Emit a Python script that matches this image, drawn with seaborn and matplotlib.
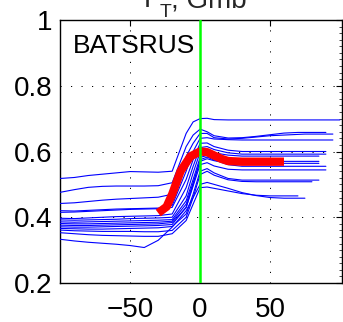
import numpy as np
import pandas as pd
import matplotlib
matplotlib.use("Agg")
import matplotlib.pyplot as plt
import seaborn as sns
from matplotlib.ticker import MultipleLocator, FixedLocator

N = np.nan
t = [-100, -90, -80, -70, -60, -50, -40, -30, -20, -10, -5, 0, 5, 10, 20, 30, 40, 50, 60, 70, 75, 80, 85, 90, 95, 100]

run01 = [0.518, 0.521, 0.527, 0.531, 0.535, 0.539, 0.538, 0.537, 0.540, 0.655, 0.690, 0.700, 0.701, 0.697, 0.696, 0.696, 0.696, 0.696, 0.696, 0.696, 0.696, 0.696, 0.696, 0.696, 0.696, 0.696]
run02 = [0.476, 0.484, 0.491, 0.494, 0.495, 0.495, 0.495, 0.496, 0.505, 0.615, 0.650, 0.668, 0.660, 0.648, 0.641, 0.642, 0.646, 0.651, 0.656, 0.658, 0.658, 0.658, 0.658, 0.658, N, N]
run03 = [0.442, 0.444, 0.448, 0.452, 0.455, 0.457, 0.459, 0.461, 0.470, 0.585, 0.625, 0.655, 0.655, 0.642, 0.638, 0.640, 0.644, 0.648, 0.650, 0.652, 0.653, 0.653, 0.653, 0.653, 0.653, N]
run04 = [0.420, 0.419, 0.421, 0.423, 0.425, 0.426, 0.427, 0.428, 0.436, 0.540, 0.600, 0.640, 0.642, 0.638, 0.636, 0.635, 0.635, 0.635, 0.635, 0.635, 0.635, 0.635, 0.635, 0.635, 0.635, N]
run05 = [0.415, 0.416, 0.418, 0.420, 0.422, 0.424, 0.425, 0.426, 0.430, 0.515, 0.575, 0.625, 0.626, 0.615, 0.604, 0.600, 0.600, 0.600, 0.600, 0.600, 0.600, 0.600, 0.600, 0.600, N, N]
run06 = [0.397, 0.396, 0.398, 0.400, 0.402, 0.403, 0.404, 0.405, 0.410, 0.490, 0.555, 0.612, 0.615, 0.606, 0.596, 0.592, 0.592, 0.592, 0.592, 0.592, 0.592, 0.592, 0.592, 0.592, N, N]
run07 = [0.392, 0.391, 0.392, 0.393, 0.394, 0.396, 0.397, 0.398, 0.400, 0.465, 0.535, 0.598, 0.602, 0.596, 0.589, 0.586, 0.586, 0.586, 0.586, 0.586, 0.586, 0.586, 0.586, N, N, N]
run08 = [0.386, 0.385, 0.386, 0.387, 0.388, 0.389, 0.390, 0.391, 0.393, 0.450, 0.515, 0.582, 0.588, 0.580, 0.573, 0.570, 0.570, 0.570, 0.570, 0.570, 0.570, 0.570, 0.570, N, N, N]
run09 = [0.381, 0.380, 0.380, 0.381, 0.382, 0.383, 0.384, 0.385, 0.388, 0.440, 0.505, 0.570, 0.578, 0.572, 0.566, 0.564, 0.564, 0.564, 0.564, 0.564, 0.564, 0.564, 0.564, N, N, N]
run10 = [0.376, 0.375, 0.375, 0.376, 0.377, 0.378, 0.379, 0.380, 0.384, 0.430, 0.495, 0.560, 0.566, 0.556, 0.546, 0.544, 0.544, 0.544, 0.544, 0.544, 0.544, 0.544, 0.544, 0.544, N, N]
run11 = [0.366, 0.365, 0.364, 0.364, 0.365, 0.366, 0.367, 0.368, 0.372, 0.410, 0.470, 0.540, 0.548, 0.535, 0.518, 0.513, 0.513, 0.513, 0.513, 0.513, 0.513, 0.513, 0.513, N, N, N]
run12 = [0.361, 0.359, 0.358, 0.357, 0.357, 0.357, 0.356, 0.356, 0.360, 0.400, 0.460, 0.530, 0.540, 0.528, 0.514, 0.509, 0.508, 0.508, 0.508, 0.508, 0.508, 0.508, N, N, N, N]
run13 = [0.353, 0.350, 0.347, 0.345, 0.344, 0.343, 0.342, 0.342, 0.350, 0.390, 0.440, 0.490, 0.492, 0.488, 0.480, 0.472, 0.467, 0.465, 0.465, 0.465, N, N, N, N, N, N]
run14 = [0.333, 0.328, 0.324, 0.321, 0.318, 0.314, 0.308, 0.330, 0.370, 0.420, 0.460, 0.500, 0.506, 0.500, 0.488, 0.475, 0.466, 0.460, 0.458, 0.458, 0.458, N, N, N, N, N]
run15 = [0.371, 0.370, 0.370, 0.371, 0.372, 0.373, 0.374, 0.375, 0.378, 0.430, 0.500, 0.575, 0.583, 0.574, 0.560, 0.555, 0.555, 0.555, 0.555, 0.555, 0.555, 0.555, 0.555, 0.555, N, N]

mean_t = [-30, -24, -20, -14, -7, 0, 5, 10, 15, 20, 30, 40, 50, 60]
mean_v = [0.413, 0.432, 0.470, 0.540, 0.585, 0.600, 0.598, 0.588, 0.578, 0.571, 0.569, 0.569, 0.569, 0.569]

title_main = "P"
title_sub = "T"
title_rest = ", Gmb"
label = "BATSRUS"
xticks = [-50, 0, 50]
yticks = [0.2, 0.4, 0.6, 0.8, 1.0]
yticklabels = ["0.2", "0.4", "0.6", "0.8", "1"]

runs = [run01, run02, run03, run04, run05, run06, run07, run08, run09, run10,
        run11, run12, run13, run14, run15]
rows = []
for i, r in enumerate(runs):
    for tt, v in zip(t, r):
        rows.append({"t": tt, "v": v, "run": i})
df = pd.DataFrame(rows).dropna()
dm = pd.DataFrame({"t": mean_t, "v": mean_v})

sns.set_style("white")
plt.rcParams["font.family"] = ["Liberation Sans", "DejaVu Sans"]

fig = plt.figure(figsize=(3.43, 3.22), dpi=100)
ax = fig.add_axes([0.176, 0.121, 0.821, 0.817])

sns.lineplot(data=df, x="t", y="v", units="run", estimator=None, color=(0, 0, 1),
             lw=0.8, ax=ax, legend=False, zorder=3)
sns.lineplot(data=dm, x="t", y="v", color=(1, 0, 0), lw=6, ax=ax, legend=False,
             zorder=4, solid_capstyle="butt")
ax.axvline(0, color=(0, 1, 0), lw=1.8, zorder=5)

ax.set_xlim(-100, 101.5)
ax.set_ylim(0.2, 1.0)
ax.xaxis.set_major_locator(FixedLocator(xticks))
ax.set_xticklabels([f"{x}".replace("-", "\u2212") for x in xticks])
ax.set_yticks(yticks)
ax.set_yticklabels(yticklabels)
ax.yaxis.set_minor_locator(MultipleLocator(0.02))
ax.set_xlabel("")
ax.set_ylabel("")

ax.grid(True, which="major", color="black", lw=0.7, linestyle=(0, (1.2, 9.6)), zorder=1)
ax.tick_params(which="major", direction="in", length=4, width=0.8, top=True, right=True,
               labelsize=20, colors="black")
ax.tick_params(axis="x", which="major", pad=10)
ax.tick_params(axis="y", which="major", pad=6)
ax.tick_params(axis="y", which="minor", direction="in", length=2, width=0.6,
               left=False, right=True)
for s in ax.spines.values():
    s.set_visible(True)
    s.set_color("black")
    s.set_linewidth(1.0)

ax.text(0.045, 0.875, label, transform=ax.transAxes, fontsize=19, va="baseline",
        ha="left", color="black", zorder=6)

H = 322.0
W = 343.0
fig.text(144 / W, 1 - 7 / H, title_main, fontsize=20, ha="left", va="baseline")
fig.text(166 / W, 1 - 17 / H, title_sub, fontsize=14, ha="center", va="baseline")
fig.text(171 / W, 1 - 7.5 / H, title_rest, fontsize=20, ha="left", va="baseline")

fig.savefig("out.png", dpi=100)
